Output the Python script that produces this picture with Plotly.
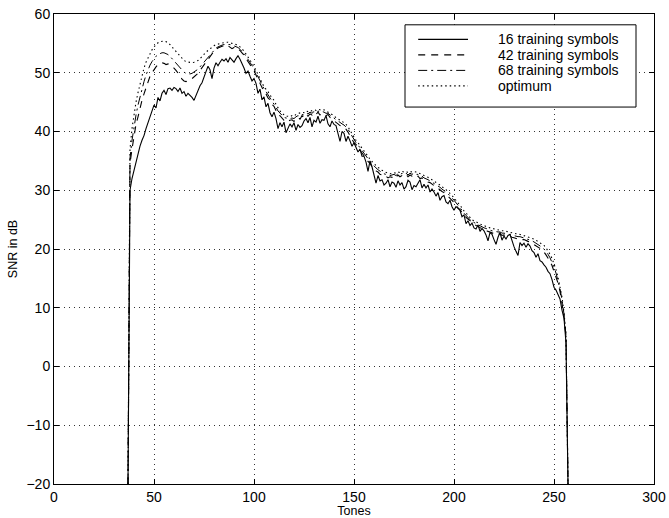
import plotly.graph_objects as go

# Tone indices (x axis)
tone_start = 37
tone_end = 257

snr_16 = [
    -20, 30.0, 32.0, 33.5, 35.0, 36.5, 37.5, 38.5, 39.3, 40.5,
    41.5, 42.5, 43.3, 44.5, 44.0, 45.8, 45.2, 46.5, 47.0, 46.3,
    47.3, 47.4, 47.0, 47.5, 47.3, 46.8, 47.4, 46.5, 46.8, 46.0,
    46.5, 46.2, 45.8, 45.3, 46.2, 47.0, 47.8, 48.3, 49.4, 50.2,
    51.1, 50.5, 49.0, 50.8, 51.7, 51.2, 51.8, 52.3, 52.0, 52.4,
    51.8, 52.6, 52.2, 51.8, 52.4, 52.9, 52.3, 51.6, 50.8, 49.9,
    50.3, 49.4, 48.6, 49.0, 48.2, 46.5, 47.2, 45.4, 45.9, 44.2,
    44.8, 43.2, 42.5, 43.3, 42.2, 40.5, 41.5, 40.8, 41.6, 39.8,
    40.6, 41.3, 40.8, 41.5, 40.2, 41.2, 40.7, 41.0, 41.8, 42.2,
    41.5, 42.4, 40.8, 41.9, 41.6, 42.6, 41.4, 42.0, 41.9, 42.7,
    41.3, 40.8, 41.8, 41.2, 41.0, 39.6, 38.3, 40.0, 39.7, 38.3,
    39.2, 38.4, 37.5, 38.1, 37.2, 36.5, 37.0, 35.8, 35.8, 34.8,
    33.2, 35.0, 34.0, 32.6, 31.2, 32.5, 31.6, 31.8, 30.9, 31.2,
    31.8, 30.6, 31.4, 31.2, 30.5, 31.6, 30.9, 31.3, 30.2, 30.6,
    31.7, 31.4, 30.1, 30.8, 30.6, 31.2, 31.8, 30.4, 31.0, 30.4,
    30.9, 29.7, 30.2, 29.7, 29.0, 29.6, 28.3, 28.9, 29.1, 28.0,
    27.7, 28.3, 27.2, 26.6, 27.2, 26.9, 26.6, 25.5, 25.8, 24.3,
    24.8, 24.0, 24.4, 23.6, 23.4, 24.1, 23.0, 23.5, 23.1, 22.4,
    21.4, 22.8, 22.5, 21.6, 20.8, 22.0, 22.8, 21.5, 22.2, 21.7,
    22.3, 22.5, 21.2, 20.4, 19.6, 18.9, 21.1, 20.6, 21.0, 20.3,
    20.9, 20.5, 19.7, 19.4, 18.6, 19.2, 18.0, 17.8, 17.3, 16.9,
    16.2, 15.8, 14.8, 13.5, 13.0, 12.2, 11.5, 9.6, 8.2, 4.0,
    -20,
]

snr_42 = [
    -20, 34.6, 37.0, 39.5, 41.2, 42.5, 44.0, 45.3, 46.4, 47.5,
    48.5, 49.4, 50.0, 50.6, 51.0, 51.4, 51.6, 51.7, 51.6, 51.4,
    51.5, 51.3, 51.1, 50.8, 50.4, 50.0, 49.5, 48.9, 48.6, 48.5,
    48.6, 48.8, 49.0, 49.3, 49.6, 49.9, 50.4, 50.9, 51.4, 51.9,
    52.4, 52.8, 53.2, 53.6, 54.0, 54.2, 54.4, 54.5, 54.6, 54.4,
    54.6, 54.4, 54.1, 54.3, 54.4, 54.0, 53.8, 53.4, 53.0, 52.4,
    51.9, 51.5, 50.8, 50.4, 49.6, 48.9, 48.0, 47.5, 46.8, 46.4,
    45.7, 45.4, 44.6, 44.3, 43.5, 42.8, 42.7, 42.3, 41.9, 42.1,
    41.8, 41.9, 42.0, 41.7, 42.2, 42.4, 42.1, 42.7, 42.4, 42.9,
    42.6, 43.0, 42.8, 43.2, 42.9, 43.3, 42.8, 43.1, 43.0, 42.7,
    42.9, 42.4, 42.2, 41.8, 41.6, 41.3, 41.0, 40.9, 40.6, 40.4,
    39.9, 39.3, 38.9, 38.1, 37.8, 37.3, 36.8, 36.2, 35.9, 35.3,
    34.9, 34.6, 34.0, 33.7, 33.3, 33.1, 32.7, 32.6, 32.3, 32.4,
    32.1, 32.3, 32.2, 32.5, 32.2, 32.6, 32.3, 32.5, 32.4, 32.7,
    32.3, 32.6, 32.4, 32.5, 32.2, 32.4, 32.0, 32.1, 31.8, 31.7,
    31.4, 31.3, 31.0, 30.8, 30.6, 30.3, 30.1, 29.8, 29.6, 29.2,
    29.0, 28.6, 28.3, 27.9, 27.6, 27.0, 26.7, 26.2, 25.8, 25.4,
    25.1, 24.8, 24.5, 24.3, 24.0, 23.9, 23.6, 23.5, 23.3, 23.2,
    23.0, 22.9, 22.8, 22.6, 22.7, 22.5, 22.6, 22.3, 22.4, 22.2,
    22.3, 22.1, 22.0, 21.9, 21.8, 21.7, 21.8, 21.6, 21.6, 21.4,
    21.3, 21.2, 21.0, 20.8, 20.6, 20.4, 20.1, 19.8, 19.5, 19.0,
    18.5, 17.9, 17.2, 16.3, 15.4, 14.2, 12.8, 11.0, 8.6, 5.0,
    -20,
]

snr_68 = [
    -20, 35.5, 38.5, 41.0, 42.8, 44.5, 46.0, 47.4, 48.5, 49.6,
    50.5, 51.3, 51.9, 52.4, 52.8, 53.1, 53.3, 53.4, 53.4, 53.3,
    53.1, 52.8, 52.4, 52.0, 51.6, 51.2, 50.8, 50.4, 50.1, 49.9,
    49.8, 49.8, 49.9, 50.1, 50.3, 50.6, 51.0, 51.4, 51.8, 52.3,
    52.7, 53.1, 53.5, 53.9, 54.2, 54.4, 54.6, 54.7, 54.8, 54.8,
    54.9, 54.8, 54.7, 54.6, 54.5, 54.3, 54.0, 53.7, 53.3, 52.8,
    52.3, 51.8, 51.2, 50.7, 50.0, 49.3, 48.5, 47.9, 47.3, 46.8,
    46.3, 45.8, 45.2, 44.8, 44.1, 43.5, 43.1, 42.7, 42.4, 42.3,
    42.2, 42.2, 42.3, 42.2, 42.5, 42.7, 42.6, 42.9, 42.8, 43.1,
    43.0, 43.3, 43.1, 43.4, 43.2, 43.5, 43.3, 43.4, 43.3, 43.1,
    43.1, 42.8, 42.6, 42.2, 42.0, 41.8, 41.5, 41.3, 41.1, 40.8,
    40.4, 39.8, 39.2, 38.6, 38.1, 37.7, 37.2, 36.7, 36.2, 35.7,
    35.3, 34.9, 34.5, 34.1, 33.8, 33.5, 33.2, 33.0, 32.8, 32.7,
    32.5, 32.5, 32.6, 32.7, 32.5, 32.8, 32.6, 32.9, 32.7, 32.9,
    32.6, 32.9, 32.7, 32.9, 32.7, 32.7, 32.4, 32.4, 32.1, 32.0,
    31.8, 31.6, 31.4, 31.2, 31.0, 30.7, 30.5, 30.2, 30.0, 29.7,
    29.4, 29.1, 28.7, 28.3, 27.9, 27.5, 27.0, 26.6, 26.1, 25.7,
    25.4, 25.0, 24.7, 24.5, 24.3, 24.1, 23.9, 23.8, 23.6, 23.5,
    23.3, 23.2, 23.1, 23.0, 23.0, 22.9, 22.9, 22.7, 22.7, 22.6,
    22.6, 22.5, 22.4, 22.3, 22.2, 22.1, 22.1, 22.0, 21.9, 21.8,
    21.7, 21.6, 21.4, 21.2, 21.0, 20.8, 20.6, 20.3, 20.0, 19.6,
    19.1, 18.5, 17.8, 16.9, 15.9, 14.7, 13.2, 11.4, 8.9, 5.2,
    -20,
]

snr_opt = [
    -20, 37.0, 40.5, 43.0, 45.0, 46.6, 48.2, 49.6, 50.8, 51.8,
    52.6, 53.3, 53.9, 54.4, 54.8, 55.1, 55.3, 55.4, 55.4, 55.3,
    55.1, 54.8, 54.4, 54.0, 53.6, 53.2, 52.8, 52.4, 52.1, 51.9,
    51.8, 51.7, 51.7, 51.8, 51.9, 52.1, 52.4, 52.8, 53.1, 53.5,
    53.8, 54.1, 54.4, 54.6, 54.8, 54.9, 55.0, 55.1, 55.1, 55.2,
    55.2, 55.1, 55.1, 55.0, 54.9, 54.7, 54.4, 54.1, 53.7, 53.2,
    52.7, 52.1, 51.6, 51.1, 50.4, 49.6, 48.9, 48.3, 47.6, 47.2,
    46.8, 46.2, 45.8, 45.3, 44.6, 44.0, 43.5, 43.1, 42.8, 42.6,
    42.6, 42.5, 42.7, 42.6, 42.9, 43.0, 43.1, 43.3, 43.2, 43.5,
    43.4, 43.6, 43.5, 43.7, 43.6, 43.8, 43.7, 43.6, 43.7, 43.5,
    43.4, 43.2, 42.9, 42.6, 42.4, 42.2, 41.9, 41.7, 41.5, 41.2,
    40.8, 40.2, 39.6, 39.0, 38.5, 38.1, 37.6, 37.1, 36.6, 36.1,
    35.7, 35.3, 34.9, 34.5, 34.2, 33.9, 33.6, 33.4, 33.2, 33.0,
    32.9, 32.8, 32.9, 33.0, 32.9, 33.1, 33.0, 33.2, 33.1, 33.2,
    33.0, 33.2, 33.1, 33.2, 33.1, 33.0, 32.8, 32.7, 32.5, 32.4,
    32.2, 32.0, 31.8, 31.6, 31.4, 31.1, 30.9, 30.6, 30.4, 30.1,
    29.8, 29.5, 29.1, 28.7, 28.3, 27.9, 27.4, 27.0, 26.5, 26.1,
    25.7, 25.3, 25.0, 24.8, 24.6, 24.4, 24.3, 24.1, 24.0, 23.8,
    23.7, 23.6, 23.5, 23.4, 23.3, 23.3, 23.2, 23.1, 23.1, 23.0,
    22.9, 22.9, 22.8, 22.7, 22.6, 22.6, 22.5, 22.4, 22.3, 22.2,
    22.1, 22.0, 21.9, 21.7, 21.5, 21.3, 21.1, 20.9, 20.6, 20.2,
    19.7, 19.1, 18.4, 17.5, 16.5, 15.2, 13.7, 11.8, 9.2, 5.5,
    -20,
]

series_names = ["16 training symbols", "42 training symbols",
                "68 training symbols", "optimum"]
x_ticks = [0, 50, 100, 150, 200, 250, 300]
y_ticks = [-20, -10, 0, 10, 20, 30, 40, 50, 60]

tones = list(range(tone_start, tone_end + 1))
for s in (snr_16, snr_42, snr_68, snr_opt):
    assert len(s) == len(tones), len(s)

FONT = "Liberation Sans, Arial, Helvetica, sans-serif"

styles = [
    dict(dash="solid", width=1.1),
    dict(dash="7px,6px", width=1.1),
    dict(dash="9px,4px,2px,4px", width=1.0),
    dict(dash="1.5px,3px", width=1.1),
]

fig = go.Figure()
for name, vals, st in zip(series_names, [snr_16, snr_42, snr_68, snr_opt], styles):
    fig.add_trace(go.Scatter(
        x=tones, y=vals, mode="lines", name=name, showlegend=False,
        line=dict(color="black", width=st["width"], dash=st["dash"]),
    ))

# Boxed legend in the MATLAB style (compact rows)
leg_x0, leg_x1, leg_y0, leg_y1 = 0.585, 0.970, 0.802, 0.977
row_y = [0.946, 0.913, 0.880, 0.847]
fig.add_shape(type="rect", xref="paper", yref="paper",
              x0=leg_x0, x1=leg_x1, y0=leg_y0, y1=leg_y1,
              line=dict(color="black", width=1), fillcolor="white", layer="above")
for name, st, yy in zip(series_names, styles, row_y):
    fig.add_shape(type="line", xref="paper", yref="paper",
                  x0=0.607, x1=0.690, y0=yy, y1=yy, layer="above",
                  line=dict(color="black", width=st["width"], dash=st["dash"]))
    fig.add_annotation(xref="paper", yref="paper", x=0.738, y=yy,
                       xanchor="left", yanchor="middle", showarrow=False,
                       borderpad=0,
                       text=name, font=dict(family=FONT, size=14, color="black"))

axis_common = dict(
    showline=True, linecolor="black", linewidth=1, mirror="ticks",
    ticks="inside", ticklen=5, tickcolor="black",
    showgrid=True, gridcolor="#333333", griddash="1px,4px", gridwidth=1,
    zeroline=False, automargin=False,
    tickfont=dict(family=FONT, size=14, color="black"),
)

fig.update_layout(
    width=669, height=518,
    margin=dict(l=54, r=15, t=14, b=34),
    paper_bgcolor="white", plot_bgcolor="white",
    font=dict(family=FONT, color="black"),
    showlegend=False,
    xaxis=dict(
        range=[0, 300], tickvals=x_ticks,
        title=dict(text="Tones", font=dict(family=FONT, size=12.5), standoff=2),
        **axis_common,
    ),
    yaxis=dict(
        range=[-20, 60], tickvals=y_ticks,
        ticktext=[str(v).replace("-", "\u2212") for v in y_ticks],
        title=dict(text="SNR in dB", font=dict(family=FONT, size=12.5), standoff=6),
        **axis_common,
    ),
)

fig.write_html("out.html", config={"displayModeBar": False})

# remove the browser's default page margin so the figure fills the window
with open("out.html", "r", encoding="utf-8") as f:
    html = f.read()
html = html.replace("<head>", "<head><style>html,body{margin:0;padding:0;overflow:hidden;}</style>", 1)
with open("out.html", "w", encoding="utf-8") as f:
    f.write(html)
